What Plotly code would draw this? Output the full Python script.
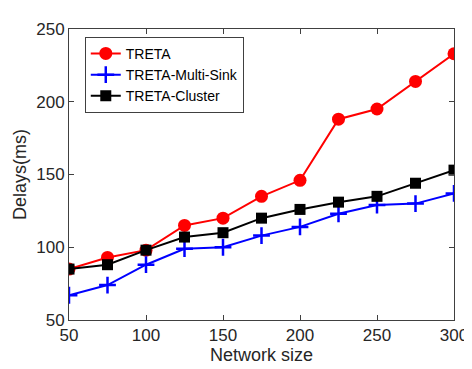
import plotly.graph_objects as go

network_size = [50, 75, 100, 125, 150, 175, 200, 225, 250, 275, 300]
treta = [85, 93, 98, 115, 120, 135, 146, 188, 195, 214, 233]
treta_multi_sink = [67, 74, 88, 99, 100, 108, 114, 123, 129, 130, 137]
treta_cluster = [85, 88, 98, 107, 110, 120, 126, 131, 135, 144, 153]

fig = go.Figure()
fig.add_trace(go.Scatter(x=network_size, y=treta, name="TRETA", mode="lines+markers",
                         line=dict(color="#ff0000", width=2),
                         marker=dict(symbol="circle", size=13, color="#ff0000")))
fig.add_trace(go.Scatter(x=network_size, y=treta_multi_sink, name="TRETA-Multi-Sink", mode="lines+markers",
                         line=dict(color="#0000ff", width=2),
                         marker=dict(symbol="cross-thin", size=12, color="#0000ff",
                                     line=dict(color="#0000ff", width=2.5))))
fig.add_trace(go.Scatter(x=network_size, y=treta_cluster, name="TRETA-Cluster", mode="lines+markers",
                         line=dict(color="#000000", width=2),
                         marker=dict(symbol="square", size=11, color="#000000")))

axis_common = dict(showline=True, linecolor="#404040", linewidth=1, mirror="ticks",
                   ticks="inside", ticklen=5, tickcolor="#404040", showgrid=False, zeroline=False,
                   tickfont=dict(family="Liberation Sans, Arial", size=17, color="#262626"))

fig.update_layout(
    width=472, height=369,
    margin=dict(l=60, r=21, t=13, b=57),
    paper_bgcolor="white", plot_bgcolor="white",
    font=dict(family="Liberation Sans, Arial", size=17, color="#262626"),
    xaxis=dict(range=[50, 300], tickvals=[50, 100, 150, 200, 250, 300],
               title=dict(text="Network size", standoff=2, font=dict(size=18)), **axis_common),
    yaxis=dict(range=[50, 250], tickvals=[50, 100, 150, 200, 250],
               title=dict(text="Delays(ms)", standoff=4, font=dict(size=18)), **axis_common),
    legend=dict(x=0.041, y=0.973, xanchor="left", yanchor="top",
                bordercolor="#404040", borderwidth=1, bgcolor="white",
                font=dict(size=14, color="#000000"), tracegroupgap=0, itemwidth=30),
    showlegend=True,
)

fig.write_html("out.html")
